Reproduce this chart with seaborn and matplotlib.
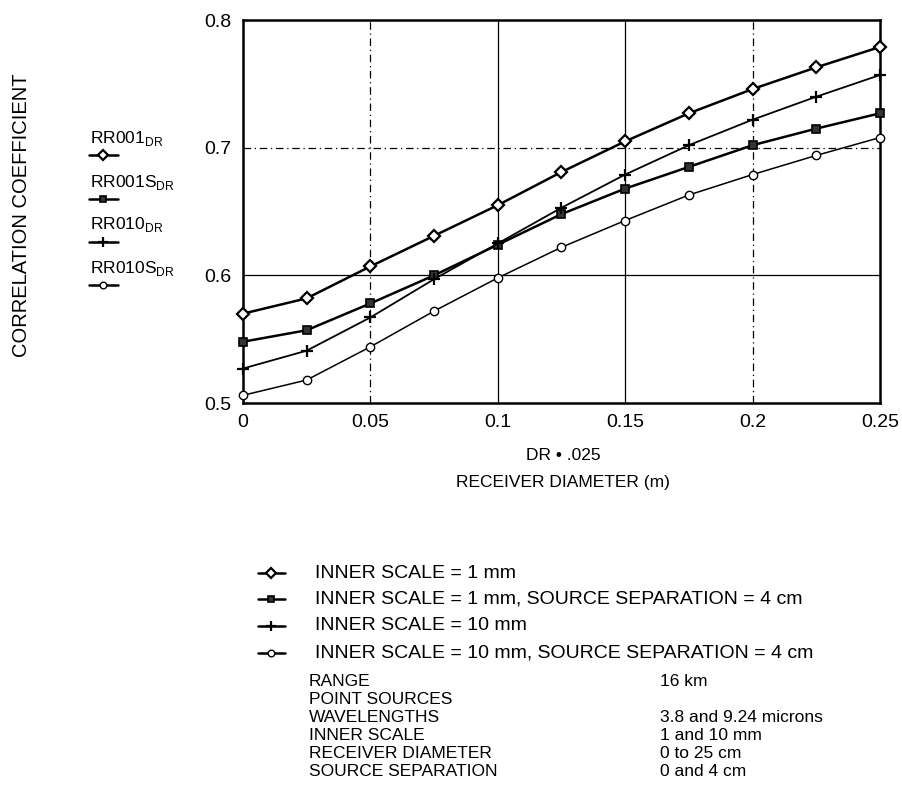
import matplotlib
matplotlib.use("Agg")
import matplotlib.pyplot as plt
from matplotlib.lines import Line2D
import seaborn as sns
import pandas as pd

sns.set_theme(style="white")
plt.rcParams['font.family'] = ['Liberation Sans', 'DejaVu Sans']
plt.rcParams['text.color'] = 'black'
plt.rcParams['xtick.color'] = 'black'
plt.rcParams['ytick.color'] = 'black'

x_vals = [0, 0.025, 0.05, 0.075, 0.1, 0.125, 0.15, 0.175, 0.2, 0.225, 0.25]
rr001 = [0.570, 0.582, 0.607, 0.631, 0.655, 0.681, 0.705, 0.727, 0.746, 0.763, 0.779]
rr001s = [0.548, 0.557, 0.578, 0.600, 0.624, 0.648, 0.668, 0.685, 0.702, 0.715, 0.727]
rr010 = [0.527, 0.541, 0.567, 0.597, 0.625, 0.653, 0.679, 0.702, 0.722, 0.740, 0.757]
rr010s = [0.506, 0.518, 0.544, 0.572, 0.598, 0.622, 0.643, 0.663, 0.679, 0.694, 0.708]

series_names = ["RR001$_{\\mathregular{DR}}$", "RR001S$_{\\mathregular{DR}}$",
                "RR010$_{\\mathregular{DR}}$", "RR010S$_{\\mathregular{DR}}$"]
legend_texts = ["INNER SCALE = 1 mm",
                "INNER SCALE = 1 mm, SOURCE SEPARATION = 4 cm",
                "INNER SCALE = 10 mm",
                "INNER SCALE = 10 mm, SOURCE SEPARATION = 4 cm"]
info_left = ["RANGE", "POINT SOURCES", "WAVELENGTHS", "INNER SCALE",
             "RECEIVER DIAMETER", "SOURCE SEPARATION"]
info_right = ["16 km", "", "3.8 and 9.24 microns", "1 and 10 mm",
              "0 to 25 cm", "0 and 4 cm"]
x_ticks = [0, 0.05, 0.1, 0.15, 0.2, 0.25]
x_ticklabels = ["0", "0.05", "0.1", "0.15", "0.2", "0.25"]
y_ticks = [0.5, 0.6, 0.7, 0.8]
y_ticklabels = ["0.5", "0.6", "0.7", "0.8"]

styles = [
    dict(marker='D', markersize=6, markerfacecolor='white', markeredgecolor='black', markeredgewidth=1.6, lw=1.8),
    dict(marker='s', markersize=6, markerfacecolor='#333333', markeredgecolor='black', markeredgewidth=1.2, lw=1.8),
    dict(marker='+', markersize=9, markerfacecolor='black', markeredgecolor='black', markeredgewidth=1.6, lw=1.3),
    dict(marker='o', markersize=6, markerfacecolor='white', markeredgecolor='black', markeredgewidth=1.0, lw=1.1),
]

fig = plt.figure(figsize=(9.03, 8.06), dpi=100)
ax = fig.add_axes([0.269, 0.5, 0.7055, 0.475])

for yv, st in zip([rr001, rr001s, rr010, rr010s], styles):
    df = pd.DataFrame({"x": x_vals, "y": yv})
    sns.lineplot(data=df, x="x", y="y", ax=ax, color='black', clip_on=False, zorder=3, **st)

dashdot = (0, (6, 3, 1, 3))
for xv, ls in [(0.05, dashdot), (0.1, '-'), (0.15, '-'), (0.2, dashdot)]:
    ax.axvline(xv, color='black', lw=0.9, ls=ls, zorder=1)
ax.axhline(0.6, color='black', lw=0.9, ls='-', zorder=1)
ax.axhline(0.7, color='black', lw=0.9, ls=dashdot, zorder=1)

ax.set_xlim(0, 0.25)
ax.set_ylim(0.5, 0.8)
ax.set_xticks(x_ticks)
ax.set_xticklabels(x_ticklabels, fontsize=14)
ax.set_yticks(y_ticks)
ax.set_yticklabels(y_ticklabels, fontsize=14)
ax.tick_params(length=0, pad=8)
ax.set_xlabel("")
ax.set_ylabel("")
for sp in ax.spines.values():
    sp.set_visible(True)
    sp.set_color('black')
    sp.set_linewidth(1.8)

W, H = 903.0, 806.0
def fx(px):
    return px / W
def fy(py):
    return 1 - py / H

fig.text(fx(22), fy(215), "CORRELATION COEFFICIENT", rotation=90, ha='center', va='center', fontsize=14.5)
fig.text(fx(563), fy(455), "DR \u2022 .025", ha='center', va='center', fontsize=12.5)
fig.text(fx(563), fy(482), "RECEIVER DIAMETER (m)", ha='center', va='center', fontsize=12.5)

left_label_y = [138, 182, 225, 268]
for name, ly, st in zip(series_names, left_label_y, styles):
    fig.text(fx(90), fy(ly), name, ha='left', va='center', fontsize=12.5)
    yy = fy(ly + 17)
    fig.add_artist(Line2D([fx(89), fx(118)], [yy, yy], color='black', lw=1.8, transform=fig.transFigure))
    m = {k: v for k, v in st.items() if k != 'lw'}
    m['markersize'] = m['markersize'] * 0.8
    fig.add_artist(Line2D([fx(103)], [yy], color='black', lw=0, transform=fig.transFigure, **m))

bottom_y = [573, 599, 626, 653]
for txt, by, st in zip(legend_texts, bottom_y, styles):
    yy = fy(by)
    fig.add_artist(Line2D([fx(258), fx(285)], [yy, yy], color='black', lw=1.8, transform=fig.transFigure))
    m = {k: v for k, v in st.items() if k != 'lw'}
    m['markersize'] = m['markersize'] * 0.8
    fig.add_artist(Line2D([fx(271)], [yy], color='black', lw=0, transform=fig.transFigure, **m))
    fig.text(fx(315), yy, txt, ha='left', va='center', fontsize=14)

info_y = [682, 700, 718, 736, 754, 772]
for l, r, iy in zip(info_left, info_right, info_y):
    fig.text(fx(309), fy(iy), l, ha='left', va='center', fontsize=12.5)
    fig.text(fx(660), fy(iy), r, ha='left', va='center', fontsize=12.5)

fig.savefig("out.png", dpi=100)
